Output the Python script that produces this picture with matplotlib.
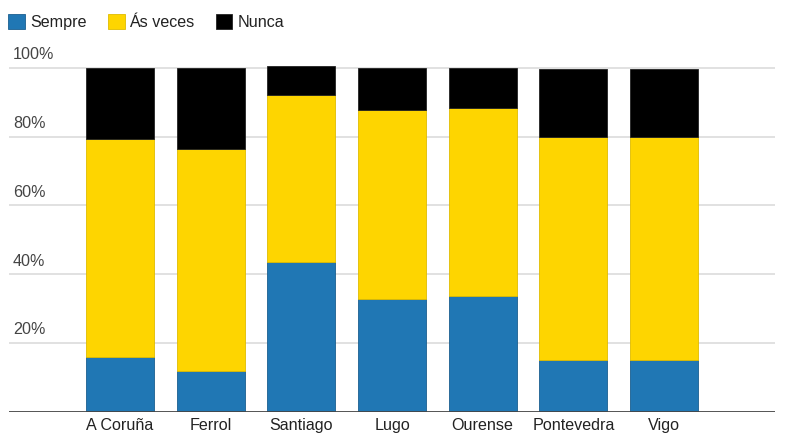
import matplotlib.pyplot as plt
import matplotlib.transforms as mtransforms

# data (percent)
cities = ["A Coruña", "Ferrol", "Santiago", "Lugo", "Ourense", "Pontevedra", "Vigo"]
sempre = [15.9, 11.9, 43.6, 32.7, 33.8, 15.1, 15.1]
as_veces = [63.3, 64.6, 48.4, 55.1, 54.7, 64.9, 64.9]
nunca = [20.8, 23.5, 8.7, 12.2, 11.5, 19.8, 19.8]

series_names = ["Sempre", "Ás veces", "Nunca"]
colors = ["#2077b4", "#fed500", "#000000"]
edges = ["#1a5f8f", "#e0bc00", "#222222"]

plt.rcParams["font.family"] = ["Liberation Sans", "DejaVu Sans"]

W, H = 789, 434
fig = plt.figure(figsize=(W / 100, H / 100), dpi=100)
# axes placement in pixels
left, right, bottom, top = 9, 775, 434 - 411.7, 434 - 40.5
ax = fig.add_axes([left / W, bottom / H, (right - left) / W, (top - bottom) / H])

x = list(range(len(cities)))
bottoms = [0] * len(cities)
for vals, name, c, ec in zip([sempre, as_veces, nunca], series_names, colors, edges):
    ax.bar(x, vals, bottom=bottoms, width=0.75, color=c, edgecolor=ec,
           linewidth=0.6, label=name, zorder=3)
    bottoms = [b + v for b, v in zip(bottoms, vals)]

ax.set_xlim(-1.224, 7.224)
ax.set_ylim(0, 108)

# gridlines
for t in [20, 40, 60, 80, 100]:
    ax.axhline(t, color="#dcdcdc", linewidth=1.2, zorder=1)
ax.axhline(0, color="#444444", linewidth=2, zorder=4)

# y labels above the gridlines
trans = mtransforms.blended_transform_factory(ax.transAxes, ax.transData)
for t in [20, 40, 60, 80, 100]:
    ax.text(0.005, t + 1.6, f"{t}%", transform=trans, ha="left", va="bottom",
            fontsize=11.6, color="#444444")

for s in ax.spines.values():
    s.set_visible(False)
ax.set_yticks([])
ax.set_xticks(x)
ax.set_xticklabels(cities, fontsize=11.6, color="#222222")
ax.tick_params(axis="x", length=0, pad=4.5)

fig.legend(loc="upper left", bbox_to_anchor=(2 / W, 1 - 8 / H), ncol=3, frameon=False,
           fontsize=11.6, handlelength=1.05, handleheight=1.05, handletextpad=0.3,
           columnspacing=1.3, borderaxespad=0, labelcolor="#222222")

fig.savefig("out.png", dpi=100)
